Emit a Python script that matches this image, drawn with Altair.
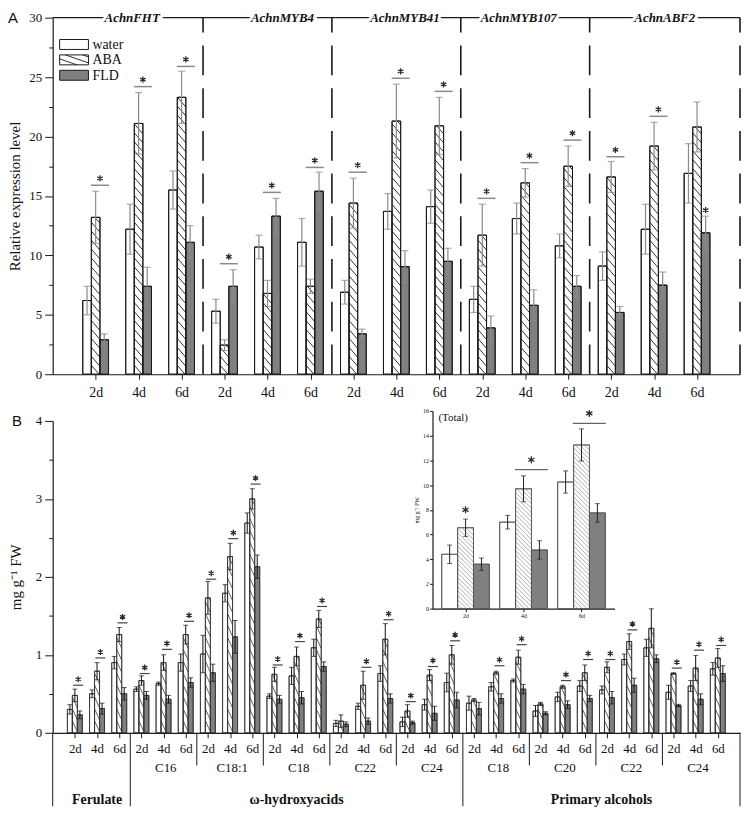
import altair as alt
import numpy as np
import pandas as pd

# ------------------------------------------------------------------ data
treatments = ["water", "ABA", "FLD"]
days = ["2d", "4d", "6d"]

# Panel A : relative expression level (mean and SD), 5 genes x 3 days
genes = ["AchnFHT", "AchnMYB4", "AchnMYB41", "AchnMYB107", "AchnABF2"]
a_water = [6.2, 12.2, 15.5, 5.3, 10.7, 11.1, 6.9, 13.7, 14.1, 6.3, 13.1, 10.8, 9.1, 12.2, 16.9]
a_water_sd = [1.2, 2.1, 1.6, 1.0, 1.0, 2.0, 1.0, 1.5, 1.4, 1.1, 1.3, 1.0, 1.2, 2.1, 2.5]
a_aba = [13.2, 21.1, 23.3, 2.45, 6.8, 7.4, 14.4, 21.3, 20.9, 11.7, 16.1, 17.5, 16.6, 19.2, 20.8]
a_aba_sd = [2.2, 2.6, 2.2, 0.45, 1.1, 0.6, 2.1, 3.1, 2.4, 2.6, 1.2, 1.7, 1.3, 2.0, 2.1]
a_fld = [2.9, 7.4, 11.1, 7.4, 13.3, 15.4, 3.4, 9.05, 9.5, 3.9, 5.8, 7.4, 5.2, 7.5, 11.9]
a_fld_sd = [0.5, 1.6, 1.4, 1.4, 1.5, 1.6, 0.4, 1.35, 1.1, 1.0, 1.3, 0.9, 0.5, 1.1, 1.4]
a_sig_idx = [1, 2, 3, 4, 5, 6, 7, 8, 9, 10, 11, 12, 13, 14]
a_sig_y = [15.9, 24.2, 25.9, 9.3, 15.3, 17.4, 17.0, 24.9, 23.8, 14.8, 17.8, 19.7, 18.3, 21.7]
a_star_idx = [15]
a_star_y = [13.8]

# Panel B : suberin monomers (mg g-1 FW), 10 compounds x 3 days
b_classes = ["Ferulate", "ω-hydroxyacids", "Primary alcohols"]
b_class_chains = [[""], ["C16", "C18:1", "C18", "C22", "C24"], ["C18", "C20", "C22", "C24"]]
b_water = [0.30, 0.50, 0.90, 0.56, 0.63, 0.90, 1.01, 1.79, 2.69, 0.47, 0.73, 1.09, 0.12, 0.34, 0.76,
           0.14, 0.36, 0.645, 0.38, 0.59, 0.67, 0.28, 0.46, 0.60, 0.55, 0.94, 1.09, 0.52, 0.60, 0.82]
b_water_sd = [0.06, 0.05, 0.08, 0.03, 0.02, 0.11, 0.24, 0.11, 0.13, 0.03, 0.11, 0.11, 0.04, 0.04, 0.10,
              0.06, 0.07, 0.12, 0.09, 0.055, 0.02, 0.07, 0.06, 0.07, 0.05, 0.07, 0.11, 0.09, 0.07, 0.08]
b_aba = [0.48, 0.79, 1.26, 0.67, 0.90, 1.26, 1.73, 2.26, 3.00, 0.75, 0.98, 1.46, 0.15, 0.61, 1.20,
         0.28, 0.74, 1.00, 0.42, 0.77, 0.97, 0.37, 0.59, 0.77, 0.84, 1.17, 1.34, 0.76, 0.83, 0.96]
b_aba_sd = [0.08, 0.11, 0.09, 0.06, 0.10, 0.12, 0.21, 0.17, 0.13, 0.09, 0.12, 0.11, 0.08, 0.18, 0.20,
            0.08, 0.07, 0.12, 0.02, 0.02, 0.09, 0.02, 0.02, 0.10, 0.07, 0.10, 0.25, 0.01, 0.16, 0.12]
b_fld = [0.23, 0.31, 0.50, 0.48, 0.43, 0.645, 0.77, 1.23, 2.13, 0.43, 0.45, 0.85, 0.11, 0.15, 0.44,
         0.13, 0.25, 0.42, 0.31, 0.44, 0.56, 0.25, 0.36, 0.44, 0.45, 0.61, 0.95, 0.35, 0.43, 0.76]
b_fld_sd = [0.05, 0.07, 0.08, 0.05, 0.05, 0.06, 0.11, 0.21, 0.15, 0.05, 0.08, 0.06, 0.03, 0.04, 0.06,
            0.02, 0.09, 0.10, 0.08, 0.06, 0.06, 0.02, 0.05, 0.04, 0.08, 0.09, 0.05, 0.015, 0.07, 0.10]
b_sig_idx = [1, 2, 3, 4, 5, 6, 7, 8, 9, 10, 11, 12, 14, 15, 16, 17, 18, 20, 21, 23, 24, 25, 26, 28, 29, 30]
b_sig_y = [0.61, 0.96, 1.41, 0.76, 1.07, 1.43, 1.97, 2.49, 3.19, 0.87, 1.17, 1.62, 0.84, 1.45,
           0.40, 0.85, 1.18, 0.86, 1.13, 0.67, 0.94, 0.94, 1.32, 0.83, 1.06, 1.12]

# Inset : total (mg g-1 FW)
i_water = [4.4, 7.0, 10.25]
i_water_sd = [0.75, 0.55, 0.9]
i_aba = [6.55, 9.7, 13.25]
i_aba_sd = [0.7, 1.05, 1.3]
i_fld = [3.6, 4.75, 7.75]
i_fld_sd = [0.5, 0.75, 0.75]
i_sig_line_idx = [2, 3]
i_sig_line_y = [11.25, 15.0]
i_star_idx = [1]
i_star_y = [8.0]

# ------------------------------------------------------------------ layout
WA, HA = 692, 359
WB, HB = 692, 314
A_XMAX = len(a_water) + 1
B_XMAX = len(b_water) + 1
A_YMAX, B_YMAX = 30, 4
I_RANGE_X = [382.4, 565.7]
I_RANGE_Y = [189, -10]
I_DOM_X = [0.43, 3.57]
I_YMAX = 16
HEAD_SHIFT = [0.1, 0.35, 0.2, -0.15, 0.0]   # nudges of the gene headers (x units)
SERIF = "Liberation Serif"
SANS = "Liberation Sans"
STAR_COL = "#2a2a2a"
ASTERISK = "M0,-1L0,1M-0.87,-0.5L0.87,0.5M-0.87,0.5L0.87,-0.5"
day_expr = "[" + ",".join("'%s'" % d for d in days) + "][(datum.value - 1) % 3]"
one = pd.DataFrame({"k": [0]})


def bar_frame(series, bw):
    rows = []
    for ti, (t, vals, sds) in enumerate(series):
        off = (ti - 1) * bw
        for i, (v, s) in enumerate(zip(vals, sds)):
            xc = i + 1 + off
            rows.append(dict(treat=t, pos=i + 1, value=v, sd=s, xc=xc, x1=xc - bw / 2,
                             x2=xc + bw / 2, lo=max(v - s, 0), hi=v + s))
    return pd.DataFrame(rows)


def hatch_frame(df, w_px, ppu, spacing, drop):
    slope = drop / w_px
    rows = []
    for r in df.itertuples():
        H = r.value * ppu
        f = (r.x2 - r.x1) / w_px
        k = 1
        while k * spacing - drop < H:
            u0 = k * spacing
            xs = max(0.0, (u0 - H) / slope)
            xe = min(w_px, u0 / slope)
            if xe - xs > 0.3:
                rows.append(dict(hx1=r.x1 + xs * f, hy1=(u0 - slope * xs) / ppu,
                                 hx2=r.x1 + xe * f, hy2=(u0 - slope * xe) / ppu))
            k += 1
    return pd.DataFrame(rows)


def star_marks(df, X, Y, size, lift):
    return alt.Chart(df).mark_point(shape=ASTERISK, size=size, filled=False, stroke=STAR_COL,
                                    strokeWidth=1.3, opacity=1, yOffset=-lift).encode(
        x=X("sxc:Q"), y=Y("sy:Q"))


def data_layers(df, hdf, sig, X, Y, st):
    fill_scale = alt.Scale(domain=treatments, range=["white", "white", st["fld"]])
    layers = [
        alt.Chart(df).mark_rect(stroke=st["stroke"], strokeWidth=st["sw"]).encode(
            x=X("x1:Q"), x2="x2:Q", y=Y("value:Q"), y2=alt.datum(0),
            fill=alt.Fill("treat:N", scale=fill_scale, legend=None)),
        alt.Chart(hdf).mark_rule(color=st["hatch"], strokeWidth=st["hw"]).encode(
            x=X("hx1:Q"), x2="hx2:Q", y=Y("hy1:Q"), y2="hy2:Q"),
        alt.Chart(df).mark_rect(fillOpacity=0, stroke=st["stroke"], strokeWidth=st["sw"]).encode(
            x=X("x1:Q"), x2="x2:Q", y=Y("value:Q"), y2=alt.datum(0)),
        alt.Chart(df).mark_rule(color=st["err"], strokeWidth=st["ew"]).encode(
            x=X("xc:Q"), y=Y("lo:Q"), y2="hi:Q"),
        alt.Chart(df).mark_tick(orient="horizontal", size=st["cap"], thickness=st["ew"], color=st["err"]).encode(
            x=X("xc:Q"), y=Y("hi:Q")),
        alt.Chart(df).mark_tick(orient="horizontal", size=st["cap"], thickness=st["ew"], color=st["err"]).encode(
            x=X("xc:Q"), y=Y("lo:Q")),
    ]
    lines, stars = sig
    if len(lines):
        layers.append(alt.Chart(lines).mark_rule(color=st["sigc"], strokeWidth=st["sigw"]).encode(
            x=X("sx1:Q"), x2="sx2:Q", y=Y("sy:Q")))
        layers.append(star_marks(lines, X, Y, st["starsize"], st["lift"]))
    if len(stars):
        layers.append(star_marks(stars, X, Y, st["starsize"], 0))
    return layers


def sig_frames(line_idx, line_y, c_off, half, star_idx, star_y, star_off):
    lines = pd.DataFrame(dict(sxc=[i + c_off for i in line_idx], sy=line_y))
    lines["sx1"] = lines.sxc - half
    lines["sx2"] = lines.sxc + half
    stars = pd.DataFrame(dict(sxc=[i + star_off for i in star_idx], sy=star_y))
    return lines, stars


# ------------------------------------------------------------------ panel A
dfA = bar_frame([("water", a_water, a_water_sd), ("ABA", a_aba, a_aba_sd), ("FLD", a_fld, a_fld_sd)], 0.2)
pxA = WA / A_XMAX
ppuA = HA / A_YMAX
hatchA = hatch_frame(dfA[dfA.treat == "ABA"], 0.2 * pxA, ppuA, 9.0, 10.0)

xA = alt.Scale(domain=[0, A_XMAX], nice=False, zero=False)
yA = alt.Scale(domain=[0, A_YMAX], nice=False)
axXA = alt.Axis(values=list(range(1, A_XMAX)), labelExpr=day_expr, tickSize=5, labelPadding=6,
                labelFontSize=14, title=None, grid=False)
axYA = alt.Axis(values=[i * 2.5 for i in range(13)],
                labelExpr="datum.value % 5 == 0 ? format(datum.value, 'd') : ''",
                tickSize={"condition": {"test": "datum.value % 5 != 0", "value": 4}, "value": 8},
                labelPadding=3, labelFontSize=13, title="Relative expression level",
                titleFontSize=15, titlePadding=6, grid=False)
XA = lambda f: alt.X(f, scale=xA, axis=axXA, title=None)
YA = lambda f: alt.Y(f, scale=yA, axis=axYA)

stA = dict(stroke="#1a1a1a", sw=1, fld="#808080", hatch="#1a1a1a", hw=0.9, err="#8a8a8a", ew=1.2,
           cap=7, sigc="#8a8a8a", sigw=1.5, starsize=40, lift=7)
layersA = data_layers(dfA, hatchA, sig_frames(a_sig_idx, a_sig_y, 0.1, 0.21, a_star_idx, a_star_y, 0.2),
                      XA, YA, stA)

# frame: top line, dashed separators, gene headers
group_edges = [0.5 + 3 * g for g in range(len(genes))] + [A_XMAX]
group_edges[0] = 0
sepA = pd.DataFrame({"sx": group_edges[1:]})
headA = pd.DataFrame({"gene": genes,
                      "gx": [(group_edges[g] + group_edges[g + 1]) / 2 + HEAD_SHIFT[g]
                             for g in range(len(genes))]})
layersA += [
    alt.Chart(one).mark_rule(color="#1a1a1a", strokeWidth=1.2).encode(
        x=alt.X(datum=0, scale=xA, axis=axXA, title=None),
        x2=alt.datum(A_XMAX), y=alt.Y(datum=A_YMAX, scale=yA, axis=axYA)),
    alt.Chart(sepA).mark_rule(color="#1a1a1a", strokeWidth=1.6, strokeDash=[30, 13]).encode(
        x=XA("sx:Q"), y=alt.Y(datum=0, scale=yA, axis=axYA), y2=alt.datum(A_YMAX)),
    alt.Chart(headA).mark_text(font=SERIF, fontStyle="italic", fontWeight="bold", fontSize=13,
                               color="white", stroke="white", strokeWidth=6, baseline="middle").encode(
        x=XA("gx:Q"), y=alt.value(0), text="gene:N"),
    alt.Chart(headA).mark_text(font=SERIF, fontStyle="italic", fontWeight="bold", fontSize=13,
                               color="#111", baseline="middle").encode(
        x=XA("gx:Q"), y=alt.value(0), text="gene:N"),
    alt.Chart(one).mark_text(text="A", font=SANS, fontSize=15, align="left", baseline="middle",
                             color="#111").encode(x=alt.value(-45), y=alt.value(0)),
]

# legend (drawn in panel A)
leg_fill = ["white", "white", "#808080"]
leg_top = [22, 37.5, 53]
for t, fcol, y0 in zip(treatments, leg_fill, leg_top):
    layersA.append(alt.Chart(one).mark_rect(fill=fcol, stroke="#1a1a1a", strokeWidth=1).encode(
        x=alt.value(7), x2=alt.value(36), y=alt.value(y0), y2=alt.value(y0 + 10)))
    layersA.append(alt.Chart(one).mark_text(text=t, font=SERIF, fontSize=14, align="left",
                                            baseline="middle", color="#111").encode(
        x=alt.value(40), y=alt.value(y0 + 5.5)))
leg_box = pd.DataFrame(dict(x1=[7 / pxA], x2=[36 / pxA], value=[10 / ppuA]))
leg_h = hatch_frame(leg_box, 29, ppuA, 6.0, 10.0)
y0_leg = A_YMAX - (leg_top[1] + 10) / ppuA
leg_h["hy1"] += y0_leg
leg_h["hy2"] += y0_leg
layersA.append(alt.Chart(leg_h).mark_rule(color="#1a1a1a", strokeWidth=0.9).encode(
    x=XA("hx1:Q"), x2="hx2:Q", y=YA("hy1:Q"), y2="hy2:Q"))

A = alt.layer(*layersA).properties(width=WA, height=HA)

# ------------------------------------------------------------------ panel B
dfB = bar_frame([("water", b_water, b_water_sd), ("ABA", b_aba, b_aba_sd), ("FLD", b_fld, b_fld_sd)], 0.225)
pxB = WB / B_XMAX
ppuB = HB / B_YMAX
hatchB = hatch_frame(dfB[dfB.treat == "ABA"], 0.225 * pxB, ppuB, 12.0, 11.0)

xB = alt.Scale(domain=[0, B_XMAX], nice=False, zero=False)
yB = alt.Scale(domain=[0, B_YMAX], nice=False)
axXB = alt.Axis(values=list(range(1, B_XMAX)), labelExpr=day_expr, tickSize=5, labelPadding=5,
                labelFontSize=13, title=None, grid=False)
axYB = alt.Axis(values=[i * 0.5 for i in range(9)],
                labelExpr="datum.value % 1 == 0 ? format(datum.value, 'd') : ''",
                tickSize={"condition": {"test": "datum.value % 1 != 0", "value": 4}, "value": 8},
                labelPadding=3, labelFontSize=13, title="mg g⁻¹ FW", titleFontSize=15,
                titlePadding=12, grid=False)
XB = lambda f: alt.X(f, scale=xB, axis=axXB, title=None)
YB = lambda f: alt.Y(f, scale=yB, axis=axYB)

stB = dict(stroke="#333333", sw=0.8, fld="#808080", hatch="#3a3a3a", hw=0.8, err="#111111", ew=1,
           cap=5, sigc="#444444", sigw=1.2, starsize=36, lift=6)
layersB = data_layers(dfB, hatchB, sig_frames(b_sig_idx, b_sig_y, 0.15, 0.225, [], [], 0),
                      XB, YB, stB)

# grouping below the axis
chain_rows, class_rows, short_sep, long_sep = [], [], [], [0]
start = 0
n_chains = sum(len(c) for c in b_class_chains)
for cls, chains in zip(b_classes, b_class_chains):
    cls_start = start
    for j, ch in enumerate(chains):
        if ch:
            chain_rows.append(dict(label=ch, cx=3 * start + 2.1))
        if j > 0:
            short_sep.append(3 * start + 0.5)
        start += 1
    end = 3 * start + 0.5 if start < n_chains else B_XMAX
    class_rows.append(dict(label=cls, cx=((3 * cls_start + 0.5) + end) / 2))
    long_sep.append(end)
chainB = pd.DataFrame(chain_rows)
classB = pd.DataFrame(class_rows)
layersB += [
    alt.Chart(pd.DataFrame({"sx": short_sep})).mark_rule(color="#1a1a1a", strokeWidth=1).encode(
        x=XB("sx:Q"), y=alt.value(HB), y2=alt.value(HB + 33)),
    alt.Chart(pd.DataFrame({"sx": long_sep})).mark_rule(color="#1a1a1a", strokeWidth=1).encode(
        x=XB("sx:Q"), y=alt.value(HB), y2=alt.value(HB + 74)),
    alt.Chart(chainB).mark_text(font=SERIF, fontSize=13, color="#111", baseline="middle").encode(
        x=XB("cx:Q"), y=alt.value(HB + 35), text="label:N"),
    alt.Chart(classB).mark_text(font=SERIF, fontSize=14, fontWeight="bold", color="#111",
                                baseline="middle").encode(
        x=XB("cx:Q"), y=alt.value(HB + 68), text="label:N"),
    alt.Chart(one).mark_text(text="B", font=SANS, fontSize=15, align="left", baseline="middle",
                             color="#111").encode(x=alt.value(-41), y=alt.value(0)),
    alt.Chart(one).mark_text(text="(Total)", font=SERIF, fontSize=11, align="left", baseline="middle",
                             color="#111").encode(x=alt.value(I_RANGE_X[0] + 6), y=alt.value(-3)),
]
B_main = alt.layer(*layersB)

# ------------------------------------------------------------------ inset
dfI = bar_frame([("water", i_water, i_water_sd), ("ABA", i_aba, i_aba_sd), ("FLD", i_fld, i_fld_sd)], 0.274)
pxI = (I_RANGE_X[1] - I_RANGE_X[0]) / (I_DOM_X[1] - I_DOM_X[0])
ppuI = (I_RANGE_Y[0] - I_RANGE_Y[1]) / I_YMAX
hatchI = hatch_frame(dfI[dfI.treat == "ABA"], 0.274 * pxI, ppuI, 4.5, 16.0)
xI = alt.Scale(domain=I_DOM_X, range=I_RANGE_X, nice=False, zero=False)
yI = alt.Scale(domain=[0, I_YMAX], range=I_RANGE_Y, nice=False)
axXI = alt.Axis(orient="bottom", offset=-(HB - I_RANGE_Y[0]), values=[1, 2, 3], labelExpr=day_expr,
                tickSize=3, labelFontSize=6, labelPadding=1, title=None, grid=False)
axYI = alt.Axis(orient="left", offset=-I_RANGE_X[0], values=list(range(0, I_YMAX + 1, 2)),
                tickSize=3, labelFontSize=6, labelPadding=1, title="mg g⁻¹ FW", titleFontSize=6,
                titlePadding=3, grid=False)
XI = lambda f: alt.X(f, scale=xI, axis=axXI, title=None)
YI = lambda f: alt.Y(f, scale=yI, axis=axYI)
stI = dict(stroke="#555555", sw=0.8, fld="#7f7f7f", hatch="#8c8c8c", hw=0.7, err="#222222", ew=1,
           cap=5, sigc="#444444", sigw=1, starsize=50, lift=10)
linesI = pd.DataFrame(dict(sx1=[i - 0.15 for i in i_sig_line_idx], sx2=[i + 0.42 for i in i_sig_line_idx],
                           sxc=[i + 0.135 for i in i_sig_line_idx], sy=i_sig_line_y))
starsI = pd.DataFrame(dict(sxc=i_star_idx, sy=i_star_y))
inset = alt.layer(*data_layers(dfI, hatchI, (linesI, starsI), XI, YI, stI))

B = alt.layer(B_main, inset).resolve_scale(x="independent", y="independent").properties(width=WB, height=HB)

chart = alt.vconcat(A, B, spacing=8).properties(
    padding={"left": 0, "top": 0, "right": 0, "bottom": 0}
).configure_view(stroke=None).configure_axis(
    labelFont=SERIF, titleFont=SERIF, titleFontWeight="normal", labelColor="#111", titleColor="#111",
    domainColor="#1a1a1a", tickColor="#1a1a1a", domainWidth=1.2, grid=False
)

chart.save("out.html", embed_options={"renderer": "svg", "actions": False})
